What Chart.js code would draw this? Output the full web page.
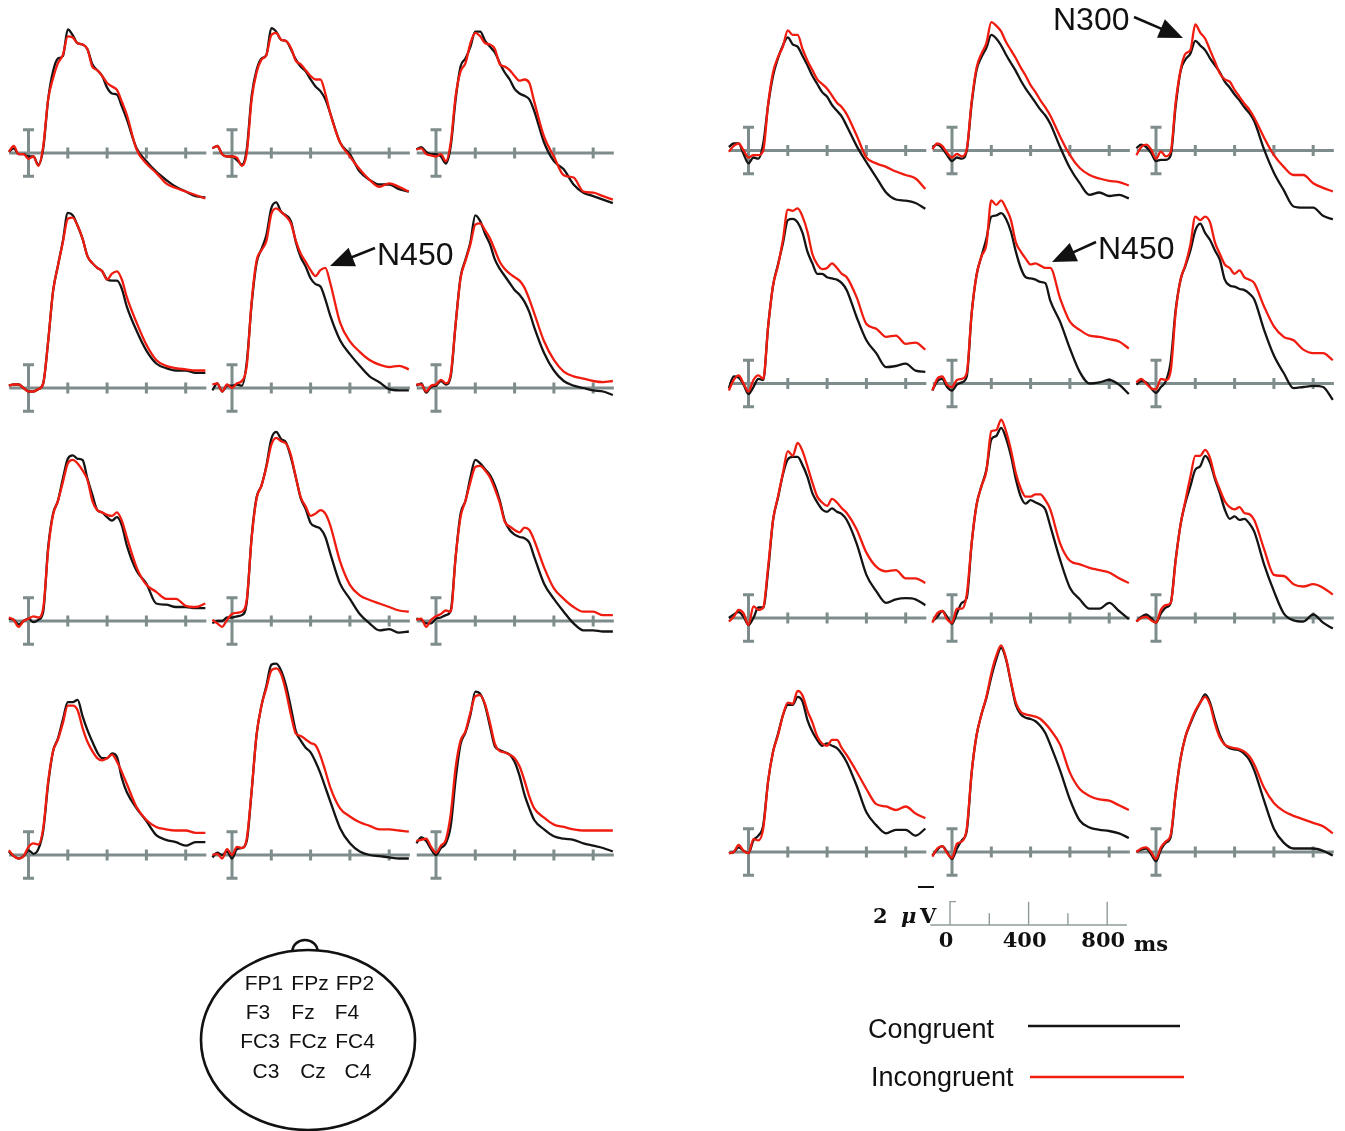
<!DOCTYPE html>
<html>
<head>
<meta charset="utf-8">
<script src="https://cdn.jsdelivr.net/npm/chart.js@4.4.1/dist/chart.umd.min.js"></script>
<style>
html,body{margin:0;padding:0;background:#fff;}
body{width:1345px;height:1131px;position:relative;overflow:hidden;font-family:"Liberation Sans",Arial,sans-serif;}
#overlay{position:absolute;left:0;top:0;pointer-events:none;}
</style>
</head>
<body>
<script>
// ---------------- DATA ----------------
const times = [-100,-75,-50,-25,0,25,50,75,100,125,150,175,200,225,250,275,300,325,350,375,400,425,450,475,500,550,600,650,700,750,800,850,900];
const electrodeRows = [['FP1','FPz','FP2'],['F3','Fz','F4'],['FC3','FCz','FC4'],['C3','Cz','C4']];
const axisTickTimes = [200,400,600,800];
const errorBarUV = 2;
const legendLabels = ['Congruent','Incongruent'];

// Left group (A): amplitude in µV
const A_FP1_con = [0.1,0.4,-0.1,-0.1,-0.3,-0.3,-1.0,0.4, 4.6,7.0,8.1,8.3,10.6,10.1,9.4,9.3,8.9, 7.6,7.1,6.6,5.6,5.1,5.0,4.0,2.9, 0.4,-0.7,-1.6,-2.3,-2.9,-3.3,-3.7,-3.8];
const A_FP1_inc = [0.1,0.6,-0.1,-0.1,-0.5,-0.3,-1.1,0.6, 4.6,6.4,7.7,8.4,10.0,9.9,9.4,9.3,8.9, 7.4,7.1,6.6,6.0,5.7,5.4,4.4,3.3, 0.3,-0.9,-1.7,-2.6,-3.0,-3.3,-3.6,-3.9];
const A_FPz_con = [0.4,0.6,-0.1,-0.3,-0.3,-0.6,-1.0,0.3, 4.9,7.1,8.1,8.4,10.7,10.4,9.7,9.6,8.9, 8.0,7.4,7.0,6.3,5.7,5.3,4.6,3.4, 0.9,-0.1,-1.6,-2.3,-2.7,-2.7,-3.1,-3.3];
const A_FPz_inc = [0.4,0.6,-0.1,-0.3,-0.3,-0.4,-1.1,0.0, 4.6,6.9,8.0,8.4,10.1,10.3,9.7,9.6,9.0, 7.9,7.6,7.1,6.6,6.3,6.3,5.1,3.4, 0.9,-0.3,-1.4,-2.3,-2.9,-2.6,-2.9,-3.3];
const A_FP2_con = [0.3,0.5,0.1,-0.1,-0.1,-0.3,-0.9,0.6, 4.6,7.4,8.1,9.1,10.4,10.4,9.6,9.1,8.6, 7.7,6.9,6.3,5.5,5.1,4.9,4.6,3.6, 0.9,-0.7,-1.4,-2.7,-3.4,-3.7,-4.0,-4.3];
const A_FP2_inc = [0.3,0.4,-0.1,-0.2,-0.3,-0.1,-0.7,0.9, 4.9,7.0,7.7,9.4,10.3,10.0,9.4,9.3,8.9, 7.6,7.4,7.1,6.6,6.2,6.3,6.0,4.4, 1.4,-0.3,-1.9,-2.1,-3.3,-3.4,-3.7,-4.0];
const A_F3_con = [0.2,0.3,0.3,0.0,-0.3,-0.3,-0.1,0.4, 4.0,8.3,10.5,12.6,15.0,14.8,13.9,12.8,11.3, 10.7,10.3,10.0,9.3,9.2,9.2,8.5,7.0, 4.9,3.2,2.1,1.7,1.5,1.5,1.3,1.3];
const A_F3_inc = [0.2,0.3,0.3,0.0,-0.3,-0.3,-0.1,0.4, 4.0,8.3,10.5,12.5,14.5,14.6,13.9,12.8,11.3, 10.7,10.3,10.0,9.3,9.8,10.0,9.3,7.8, 5.6,3.7,2.4,1.9,1.7,1.6,1.5,1.5];
const A_Fz_con = [-0.2,0.4,-0.3,0.2,0.2,0.3,0.2,2.2, 7.2,10.7,11.9,13.1,15.4,15.9,15.1,14.8,14.3, 12.5,11.2,10.4,9.4,8.9,8.7,7.6,6.2, 4.1,2.9,1.9,1.0,0.5,-0.1,-0.2,-0.2];
const A_Fz_inc = [0.3,0.4,-0.3,0.3,0.0,0.4,0.6,1.9, 7.4,10.9,11.8,12.6,14.9,15.4,15.1,14.7,14.1, 12.6,11.5,10.8,10.1,9.6,10.1,10.3,9.0, 5.6,4.0,3.1,2.4,2.0,1.8,1.9,1.6];
const A_F4_con = [0.2,0.4,-0.4,0.1,0.2,0.6,0.3,1.0, 5.5,9.5,11.0,12.5,14.8,14.3,13.2,12.3,11.0, 10.2,9.6,9.0,8.4,8.0,7.4,6.5,5.2, 3.0,1.5,0.6,0.2,0.0,-0.2,-0.3,-0.6];
const A_F4_inc = [0.3,0.3,-0.3,0.2,0.3,0.7,0.4,1.2, 5.5,9.4,10.9,12.3,14.0,14.1,13.5,12.8,11.8, 10.8,10.2,9.8,9.5,9.2,8.6,7.6,6.4, 4.0,2.4,1.4,1.0,0.8,0.6,0.5,0.6];
const A_FC3_con = [0.2,0.1,-0.3,0.0,0.2,-0.1,0.1,0.8, 6.3,9.2,10.3,12.2,13.9,14.2,13.9,13.8,12.2, 10.8,9.5,9.3,8.9,8.6,8.9,8.2,6.5, 4.3,3.2,1.5,1.4,1.2,1.2,1.1,1.1];
const A_FC3_inc = [0.3,0.1,-0.5,0.0,0.2,0.4,0.3,1.1, 6.1,9.1,10.3,11.9,13.5,13.8,13.5,12.9,12.1, 10.3,9.5,9.3,9.1,9.0,9.3,8.6,7.2, 4.6,3.1,2.5,1.9,1.9,1.3,1.2,1.5];
const A_FCz_con = [-0.2,0.0,0.0,0.3,0.3,0.4,0.5,1.6, 7.2,10.6,11.6,13.3,15.6,16.2,15.6,15.3,14.0, 12.3,10.5,9.6,8.4,8.1,7.9,7.2,5.8, 3.2,1.9,0.6,-0.2,-0.8,-0.7,-1.0,-0.9];
const A_FCz_inc = [0.1,-0.2,-0.5,0.1,0.6,0.7,0.8,1.8, 7.1,10.5,11.6,13.2,15.1,15.7,15.4,15.2,14.2, 12.3,10.6,9.8,9.0,9.2,9.5,9.2,8.2, 5.1,3.1,2.2,1.8,1.5,1.2,0.9,0.8];
const A_FC4_con = [0.2,0.1,-0.2,-0.2,0.2,0.3,0.5,0.9, 5.5,9.2,10.3,12.3,13.8,13.5,13.0,12.5,11.6, 10.3,8.6,7.8,7.4,7.2,7.1,6.7,5.5, 3.2,1.9,0.8,-0.2,-0.8,-0.8,-0.9,-0.9];
const A_FC4_inc = [0.1,0.2,-0.5,0.1,0.4,0.6,0.9,0.8, 5.5,8.9,10.3,11.9,13.2,13.3,12.9,12.3,11.3, 10.1,8.5,8.1,7.8,7.6,8.0,7.8,6.9, 4.6,2.8,1.9,1.2,0.8,0.8,0.5,0.5];
const A_C3_con = [0.3,-0.1,-0.3,-0.1,0.4,0.1,0.5,2.1, 6.1,8.9,10.0,11.6,13.1,13.1,13.3,11.9,10.7, 9.7,8.8,8.3,8.3,8.7,8.4,6.6,5.4, 4.0,2.9,1.7,1.3,1.1,0.8,1.1,1.1];
const A_C3_inc = [0.4,-0.1,-0.3,-0.1,0.7,1.0,0.9,2.3, 6.3,8.9,9.9,11.3,12.8,12.8,12.4,10.9,9.7, 8.9,8.3,8.1,8.3,8.6,8.0,7.1,6.1, 4.1,3.0,2.4,2.2,2.1,2.1,1.9,1.9];
const A_Cz_con = [-0.2,0.2,0.0,0.3,-0.3,0.5,0.6,1.2, 5.5,10.3,12.8,14.5,16.3,16.4,15.8,14.5,12.6, 10.6,9.8,9.2,8.8,8.0,7.0,5.8,4.6, 2.3,1.0,0.3,0.0,-0.1,-0.2,-0.3,-0.3];
const A_Cz_inc = [0.0,0.1,-0.3,0.5,0.0,0.7,0.6,1.4, 5.5,10.3,12.8,14.3,15.8,16.0,15.5,14.0,12.0, 10.4,10.2,9.9,9.6,9.4,8.5,7.2,5.8, 4.0,3.3,2.8,2.5,2.2,2.2,2.1,2.0];
const A_C4_con = [1.0,1.5,1.2,0.5,0.0,0.6,1.0,2.5, 6.5,9.5,10.5,12.0,14.0,13.8,12.8,11.0,9.3, 9.0,8.8,8.6,8.0,6.8,5.2,4.0,3.0, 2.2,1.6,1.4,1.3,1.0,0.8,0.6,0.3];
const A_C4_inc = [1.2,1.3,1.4,0.7,0.2,0.8,1.3,3.5, 7.5,9.8,10.6,12.2,13.6,13.7,12.9,11.3,9.5, 8.9,8.8,8.6,8.3,7.6,6.4,5.0,4.0, 3.2,2.6,2.4,2.2,2.1,2.1,2.1,2.1];

// Right group (B)
const B_FP1_con = [0.3,0.6,0.6,-0.3,-1.1,-0.6,-0.7,0.6, 3.9,6.4,7.9,9.0,9.7,9.1,8.9,8.1,7.3, 6.4,5.7,5.0,4.6,3.9,3.4,2.9,2.1, 0.4,-1.0,-2.3,-3.6,-4.2,-4.3,-4.5,-5.0];
const B_FP1_inc = [-0.1,0.4,0.6,0.0,-0.6,-0.4,-0.4,0.0, 4.0,6.7,8.0,8.9,10.3,9.9,9.9,8.7,7.7, 6.9,6.1,5.7,5.3,4.7,4.1,3.7,3.1, 1.3,-0.6,-1.1,-1.4,-1.8,-2.1,-2.4,-3.3];
const B_FPz_con = [0.3,0.5,0.2,-0.4,-0.9,-0.6,-0.7,0.0, 4.0,6.9,8.0,8.8,9.9,9.6,9.0,8.2,7.5, 6.8,6.0,5.3,4.7,4.1,3.5,3.0,2.3, 0.3,-1.5,-2.8,-3.8,-3.6,-3.9,-3.8,-4.1];
const B_FPz_inc = [0.1,0.6,0.4,-0.2,-0.6,-0.3,-0.5,0.1, 4.2,7.1,8.3,9.2,11.0,10.7,10.2,9.3,8.6, 7.9,7.1,6.4,5.6,5.0,4.3,3.7,3.0, 1.2,-0.4,-1.5,-2.1,-2.4,-2.6,-2.7,-3.0];
const B_FP2_con = [0.2,0.5,0.3,-0.2,-0.9,-0.8,-0.8,-0.4, 3.8,6.8,7.8,8.3,9.4,9.0,8.6,7.9,7.3, 6.7,5.9,5.4,4.8,4.3,3.7,3.2,2.5, 0.1,-1.9,-3.4,-4.8,-4.9,-4.9,-5.6,-5.9];
const B_FP2_inc = [-0.4,0.3,0.5,0.1,-0.7,-0.1,-0.5,-0.1, 4.1,6.9,8.3,8.6,10.8,10.1,9.6,8.6,7.6, 6.6,6.1,5.9,5.2,4.6,4.0,3.5,2.8, 1.1,-0.4,-1.4,-2.1,-2.1,-2.8,-3.2,-3.5];
const B_F3_con = [-0.4,0.6,0.5,-0.1,-0.9,-0.3,0.4,0.3, 4.9,8.4,10.2,12.0,14.0,14.1,13.8,12.9,11.3, 10.3,9.4,9.4,9.1,9.0,8.9,8.6,8.0, 5.7,3.7,2.6,1.4,1.5,1.7,1.1,1.0];
const B_F3_inc = [-0.6,0.3,0.7,0.0,-0.7,0.3,0.7,0.4, 4.9,8.4,10.1,12.3,14.9,14.8,15.0,14.3,13.0, 11.1,10.2,9.8,9.9,10.3,9.9,9.4,9.1, 7.4,5.1,4.7,4.0,4.1,3.4,3.5,2.9];
const B_Fz_con = [-0.6,0.2,0.4,-0.3,-0.6,-0.1,0.1,0.6, 6.0,9.3,10.9,12.4,14.3,14.4,14.6,14.1,13.0, 11.3,9.9,9.1,9.0,8.9,8.7,8.6,7.1, 5.3,3.0,1.0,0.0,0.1,0.3,-0.1,-0.9];
const B_Fz_inc = [-0.6,0.4,0.6,-0.1,-0.3,0.3,0.4,0.9, 6.0,9.3,10.9,11.9,15.7,15.3,15.7,15.0,14.0, 12.1,11.3,10.7,10.2,10.3,10.1,9.9,9.9, 7.3,5.3,4.6,4.1,4.0,3.8,3.6,3.0];
const B_F4_con = [-0.1,0.2,0.1,-0.4,-0.8,-0.3,0.2,1.9, 6.3,8.9,10.1,11.4,13.1,13.7,12.9,12.3,11.4, 10.6,8.9,8.4,8.3,8.1,8.0,7.7,7.2, 4.6,2.4,0.9,-0.4,-0.3,-0.2,-0.3,-1.4];
const B_F4_inc = [0.1,0.4,0.0,-0.4,-0.5,0.4,0.3,1.1, 6.1,8.9,10.2,11.9,14.3,14.0,14.3,13.8,12.1, 11.1,10.2,9.9,9.4,9.7,9.1,8.9,8.6, 6.6,4.9,4.0,3.7,2.9,2.6,2.6,2.0];
const B_FC3_con = [0.0,0.3,0.5,0.1,-0.6,0.0,0.9,0.9, 4.1,8.4,10.3,12.3,13.6,13.8,13.8,13.1,12.1, 10.7,9.9,9.3,9.1,9.4,9.1,8.9,8.4, 6.4,3.7,2.3,1.3,1.6,1.7,1.6,1.1];
const B_FC3_inc = [-0.3,0.1,0.7,0.4,-0.6,1.0,0.7,0.9, 4.4,8.4,10.4,12.4,14.3,13.9,15.0,14.3,13.0, 11.6,10.4,9.9,9.6,10.2,9.9,9.4,9.0, 7.6,5.6,4.4,4.0,4.1,3.4,3.4,3.0];
const B_FCz_con = [-0.3,0.1,0.6,0.1,-0.5,0.4,1.3,1.7, 6.4,9.7,11.3,12.7,15.3,15.6,16.3,15.4,13.9, 11.9,10.4,9.8,10.1,9.9,9.7,9.3,7.9, 5.0,2.6,1.6,0.8,0.8,1.3,0.6,-0.1];
const B_FCz_inc = [-0.4,0.4,0.6,-0.1,-0.4,0.8,0.8,2.0, 6.4,9.7,11.3,12.6,16.0,16.1,17.0,16.0,14.4, 12.4,11.1,10.4,10.4,10.6,10.6,10.1,9.3, 6.4,4.9,4.6,4.3,4.1,3.9,3.4,3.0];
const B_FC4_con = [-0.3,0.1,0.3,0.0,-0.4,0.4,0.9,1.3, 5.0,8.0,9.9,11.3,12.7,13.0,13.9,13.3,11.9, 10.7,9.3,8.5,8.7,8.4,8.5,8.1,7.4, 4.6,2.3,0.4,-0.2,-0.3,0.3,-0.4,-0.9];
const B_FC4_inc = [-0.3,0.0,0.1,-0.2,-0.4,0.7,1.1,1.3, 4.9,8.0,10.1,12.1,13.9,13.9,14.4,13.7,12.1, 11.0,10.0,9.5,9.3,9.5,9.0,8.9,8.4, 5.9,3.7,3.6,2.9,2.7,2.9,2.6,2.0];
const B_C3_con = [-0.1,0.0,0.4,0.1,-0.1,1.0,1.4,2.3, 6.1,8.6,10.1,11.7,12.6,12.6,13.3,12.9,11.3, 10.3,9.6,9.1,9.3,9.1,8.9,8.4,7.7, 5.7,3.4,2.3,1.6,1.9,1.9,1.4,2.0];
const B_C3_inc = [-0.1,0.0,0.6,0.1,-0.1,1.1,1.0,2.0, 6.1,8.6,10.0,11.7,12.8,12.7,13.8,13.4,12.1, 11.1,9.9,9.3,9.1,9.6,9.6,8.9,8.3, 6.9,5.4,4.1,3.9,3.6,3.9,3.3,2.9];
const B_Cz_con = [-0.3,0.2,0.5,0.0,-0.6,0.3,1.0,1.8, 6.8,10.0,11.8,13.2,15.0,16.5,17.5,16.5,14.5, 12.6,11.8,11.5,11.4,11.2,10.8,10.2,9.2, 7.0,4.5,2.7,2.1,1.9,1.8,1.6,1.2];
const B_Cz_inc = [-0.4,0.3,0.5,-0.1,-0.5,0.7,0.9,2.0, 6.8,10.0,11.8,13.3,15.3,16.8,17.7,16.6,14.6, 12.8,12.0,11.8,11.7,11.6,11.4,11.0,10.5, 9.2,6.8,5.4,4.8,4.5,4.4,4.0,3.6];
const B_C4_con = [0.0,0.2,0.3,-0.2,-0.8,0.2,0.8,1.3, 5.0,8.0,9.9,11.0,12.0,12.8,13.5,12.8,11.3, 10.0,9.2,8.9,8.8,8.7,8.4,7.9,7.0, 4.4,2.0,0.8,0.3,0.3,0.3,0.1,-0.3];
const B_C4_inc = [0.0,0.3,0.4,0.0,-0.6,0.4,0.9,1.5, 5.0,8.0,9.9,11.1,12.1,12.8,13.3,12.6,11.0, 9.8,9.2,9.0,8.9,8.8,8.6,8.2,7.5, 5.5,4.2,3.5,3.1,2.8,2.5,2.2,1.6];

// scale-bar legend
const scaleBarTicks = [0,200,400,600,800];
const scaleBarTickUV = [2,1,2,1,2];

// ---------------- LAYOUT / STYLE ----------------
const groupSeries = {
  A: {FP1:[A_FP1_con,A_FP1_inc],FPz:[A_FPz_con,A_FPz_inc],FP2:[A_FP2_con,A_FP2_inc],F3:[A_F3_con,A_F3_inc],Fz:[A_Fz_con,A_Fz_inc],F4:[A_F4_con,A_F4_inc],FC3:[A_FC3_con,A_FC3_inc],FCz:[A_FCz_con,A_FCz_inc],FC4:[A_FC4_con,A_FC4_inc],C3:[A_C3_con,A_C3_inc],Cz:[A_Cz_con,A_Cz_inc],C4:[A_C4_con,A_C4_inc]},
  B: {FP1:[B_FP1_con,B_FP1_inc],FPz:[B_FPz_con,B_FPz_inc],FP2:[B_FP2_con,B_FP2_inc],F3:[B_F3_con,B_F3_inc],Fz:[B_Fz_con,B_Fz_inc],F4:[B_F4_con,B_F4_inc],FC3:[B_FC3_con,B_FC3_inc],FCz:[B_FCz_con,B_FCz_inc],FC4:[B_FC4_con,B_FC4_inc],C3:[B_C3_con,B_C3_inc],Cz:[B_Cz_con,B_Cz_inc],C4:[B_C4_con,B_C4_inc]}
};
const groupLayout = [
  {key:'A', zeroX:[28.5,232,436], axisY:[153,388,621,855]},
  {key:'B', zeroX:[748.5,952,1156], axisY:[150.5,383.5,618,852]}
];
const PX_PER_MS = 0.1965, PX_PER_UV = 11.67;
const X_MIN = -100, X_MAX = 900, Y_MIN = -7, Y_MAX = 19, PAD = 14;
const AXIS_COLOR = '#7e8d8c', CON_COLOR = '#141414', INC_COLOR = '#f01c10';

const axisDeco = {
  id:'axisDeco',
  beforeDatasetsDraw(chart){
    const {ctx, scales:{x,y}} = chart;
    const y0 = y.getPixelForValue(0);
    ctx.save();
    ctx.strokeStyle = AXIS_COLOR; ctx.lineWidth = 3; ctx.lineCap = 'butt';
    ctx.beginPath();
    ctx.moveTo(x.getPixelForValue(-98), y0); ctx.lineTo(x.getPixelForValue(905), y0);
    axisTickTimes.forEach(t => { const px = x.getPixelForValue(t); ctx.moveTo(px, y0-5.5); ctx.lineTo(px, y0+5.5); });
    ctx.stroke();
    const bx = x.getPixelForValue(0), yt = y.getPixelForValue(errorBarUV), yb = y.getPixelForValue(-errorBarUV);
    ctx.beginPath();
    ctx.moveTo(bx, yt); ctx.lineTo(bx, yb);
    ctx.moveTo(bx-5.5, yt); ctx.lineTo(bx+5.5, yt);
    ctx.moveTo(bx-5.5, yb); ctx.lineTo(bx+5.5, yb);
    ctx.stroke();
    ctx.restore();
  }
};

function makePanel(zeroX, axisY, con, inc){
  const aL = zeroX + X_MIN*PX_PER_MS, aR = zeroX + X_MAX*PX_PER_MS;
  const aT = axisY - Y_MAX*PX_PER_UV, aB = axisY - Y_MIN*PX_PER_UV;
  const left = Math.floor(aL - PAD), top = Math.floor(aT - PAD);
  const width = Math.ceil(aR + PAD) - left, height = Math.ceil(aB + PAD) - top;
  const c = document.createElement('canvas');
  c.width = width; c.height = height;
  c.style.cssText = `position:absolute;left:${left}px;top:${top}px;width:${width}px;height:${height}px;`;
  document.body.appendChild(c);
  const ds = (label, arr, color, order) => ({
    label, data: times.map((t,i)=>({x:t, y:arr[i]})), borderColor: color, backgroundColor: color,
    borderWidth: 2.3, pointRadius: 0, cubicInterpolationMode: 'monotone', fill: false, order, clip: false
  });
  new Chart(c, {
    type:'line',
    data:{datasets:[ds(legendLabels[1], inc, INC_COLOR, 0), ds(legendLabels[0], con, CON_COLOR, 1)]},
    options:{
      responsive:false, animation:false, devicePixelRatio:1,
      layout:{padding:{left:aL-left, right:left+width-aR, top:aT-top, bottom:top+height-aB}},
      scales:{x:{type:'linear', min:X_MIN, max:X_MAX, display:false}, y:{type:'linear', min:Y_MIN, max:Y_MAX, display:false}},
      plugins:{legend:{display:false}, tooltip:{enabled:false}},
      events:[]
    },
    plugins:[axisDeco]
  });
}

groupLayout.forEach(g => {
  electrodeRows.forEach((row, r) => {
    row.forEach((el, ci) => {
      const [con, inc] = groupSeries[g.key][el];
      makePanel(g.zeroX[ci], g.axisY[r], con, inc);
    });
  });
});

// ---- scale bar (Chart.js axis) ----
(function(){
  const zeroX = 950, baseY = 925;
  const left = 900, top = 870, width = 300, height = 100;
  const aL = zeroX + X_MIN*PX_PER_MS - left, aR = zeroX + X_MAX*PX_PER_MS - left;
  const c = document.createElement('canvas');
  c.width = width; c.height = height;
  c.style.cssText = `position:absolute;left:${left}px;top:${top}px;width:${width}px;height:${height}px;`;
  document.body.appendChild(c);
  const chartTop = 10, chartBottom = baseY - top;
  const scaleDeco = {
    id:'scaleDeco',
    afterDraw(chart){
      const {ctx, scales:{x,y}} = chart;
      const y0 = y.getPixelForValue(0);
      ctx.save();
      ctx.strokeStyle = '#8f9c9b'; ctx.lineWidth = 1.4;
      ctx.beginPath();
      ctx.moveTo(x.getPixelForValue(-100), y0); ctx.lineTo(x.getPixelForValue(900), y0);
      scaleBarTicks.forEach((t,i) => {
        const px = x.getPixelForValue(t);
        ctx.moveTo(px, y0); ctx.lineTo(px, y.getPixelForValue(scaleBarTickUV[i]));
        if (t === 0) { const yt = y.getPixelForValue(scaleBarTickUV[i]); ctx.lineTo(px+6, yt); }
      });
      ctx.stroke();
      ctx.restore();
    }
  };
  new Chart(c, {
    type:'line',
    data:{datasets:[]},
    options:{
      responsive:false, animation:false, devicePixelRatio:1,
      layout:{padding:{left:aL, right:width-aR, top:chartTop, bottom:0}},
      scales:{
        x:{type:'linear', min:X_MIN, max:X_MAX, position:'bottom',
           grid:{display:false, drawTicks:false}, border:{display:false},
           afterBuildTicks:(s)=>{ s.ticks = scaleBarTicks.map(v=>({value:v})); },
           afterFit:(s)=>{ s.height = height - chartBottom; },
           ticks:{autoSkip:false, maxRotation:0, padding:4, labelOffset:-4, color:'#111',
                  font:{family:'DejaVu Serif', weight:'bold', size:21},
                  callback:(v)=> (v % 400 === 0 ? String(v) : '')}},
        y:{type:'linear', min:0, max:(chartBottom-chartTop)/PX_PER_UV, display:false}
      },
      plugins:{legend:{display:false}, tooltip:{enabled:false}},
      events:[]
    },
    plugins:[scaleDeco]
  });
})();

// ---------------- SVG overlay: annotations, head map, legend ----------------
const NS = 'http://www.w3.org/2000/svg';
const svg = document.createElementNS(NS,'svg');
svg.setAttribute('id','overlay'); svg.setAttribute('width','1345'); svg.setAttribute('height','1131');
document.body.appendChild(svg);
function el(tag, attrs, text){
  const e = document.createElementNS(NS, tag);
  for (const k in attrs) e.setAttribute(k, attrs[k]);
  if (text !== undefined) e.textContent = text;
  svg.appendChild(e); return e;
}
function arrow(x1,y1,x2,y2){
  const L = 24, W = 10;
  const dx = x2-x1, dy = y2-y1, len = Math.hypot(dx,dy), ux = dx/len, uy = dy/len;
  const bx = x2 - L*ux, by = y2 - L*uy, nx = -uy, ny = ux;
  el('line',{x1,y1,x2:bx+2*ux,y2:by+2*uy,stroke:'#111','stroke-width':2.6});
  el('polygon',{points:`${x2},${y2} ${bx+W*nx},${by+W*ny} ${bx-W*nx},${by-W*ny}`, fill:'#111'});
}
const annFont = {'font-family':'Liberation Sans, Arial, sans-serif','font-size':32,fill:'#111'};
el('text',{x:1053,y:30,...annFont},'N300'); arrow(1134,17,1183,38);
el('text',{x:377,y:265,...annFont},'N450'); arrow(375,248,330,266);
el('text',{x:1098,y:259,...annFont},'N450'); arrow(1096,242,1052,262);

// head map
el('ellipse',{cx:308,cy:1040,rx:107,ry:90,fill:'none',stroke:'#111','stroke-width':2.6});
el('path',{d:'M 292.5 951 A 12.5 11 0 0 1 317.5 951',fill:'none',stroke:'#111','stroke-width':2.6});
const headCols = [[264,310,355],[258,303,347],[260,308,355],[266,313,358]];
const headBase = [990,1019,1048,1078];
electrodeRows.forEach((row,r)=>row.forEach((name,ci)=>{
  el('text',{x:headCols[r][ci],y:headBase[r],'text-anchor':'middle','font-family':'Liberation Sans, Arial, sans-serif','font-size':21,fill:'#111'},name);
}));

// scale-bar labels
const serif = {'font-family':'DejaVu Serif, serif','font-weight':'bold','font-size':21,fill:'#111'};
el('text',{x:873,y:923,...serif},'2');
el('text',{x:901,y:923,...serif,'font-style':'italic'},'μ');
el('text',{x:920,y:923,...serif},'V');
el('line',{x1:918,y1:887,x2:934,y2:887,stroke:'#111','stroke-width':2});
el('text',{x:1134,y:951,...serif},'ms');

// legend
const legFont = {'font-family':'Liberation Sans, Arial, sans-serif','font-size':27,fill:'#111'};
el('text',{x:868,y:1038,...legFont},legendLabels[0]);
el('line',{x1:1028,y1:1026,x2:1180,y2:1026,stroke:CON_COLOR,'stroke-width':2.6});
el('text',{x:871,y:1086,...legFont},legendLabels[1]);
el('line',{x1:1030,y1:1077,x2:1184,y2:1077,stroke:INC_COLOR,'stroke-width':2.6});
</script>
</body>
</html>
